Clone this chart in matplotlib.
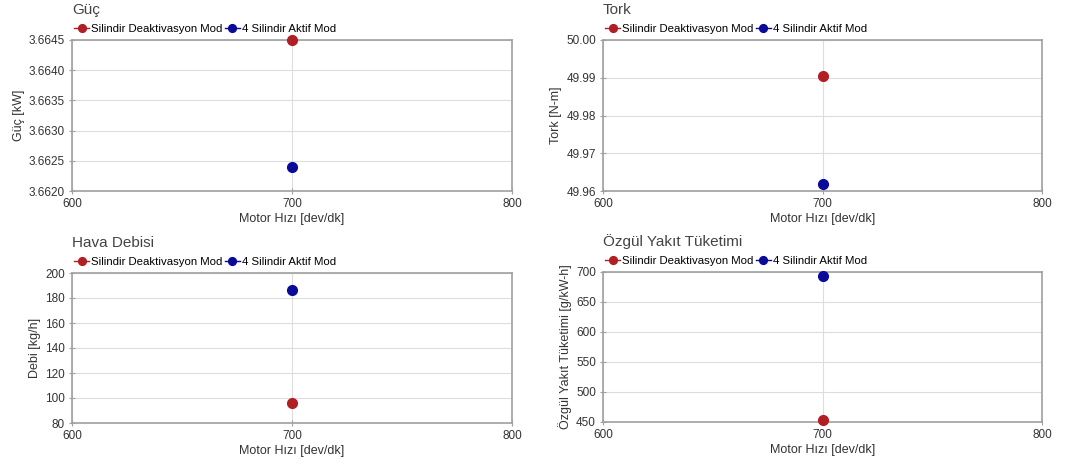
import matplotlib
matplotlib.use("Agg")
import matplotlib.pyplot as plt

plt.rcParams["font.family"] = ["Liberation Sans", "DejaVu Sans"]

# -----------------------------
# DATA
# -----------------------------

speed = [700]
series_names = ["Silindir Deaktivasyon Mod", "4 Silindir Aktif Mod"]
series_colors = ["#b01f24", "#0a0a9a"]

guc_deak = [3.66450]
guc_aktif = [3.66240]

tork_deak = [49.9905]
tork_aktif = [49.9618]

debi_deak = [96.0]
debi_aktif = [186.5]

bsfc_deak = [453.0]
bsfc_aktif = [693.0]

panels = [
    ("Güç", "Güç [kW]", guc_deak, guc_aktif, (3.6620, 3.6645), [3.6620, 3.6625, 3.6630, 3.6635, 3.6640, 3.6645], "{:.4f}"),
    ("Tork", "Tork [N-m]", tork_deak, tork_aktif, (49.96, 50.00), [49.96, 49.97, 49.98, 49.99, 50.00], "{:.2f}"),
    ("Hava Debisi", "Debi [kg/h]", debi_deak, debi_aktif, (80, 200), [80, 100, 120, 140, 160, 180, 200], "{:.0f}"),
    ("Özgül Yakıt Tüketimi", "Özgül Yakıt Tüketimi [g/kW-h]", bsfc_deak, bsfc_aktif, (450, 700), [450, 500, 550, 600, 650, 700], "{:.0f}"),
]

# axes rectangles in pixels: left, top, right, bottom
rects = [
    (72, 40, 512, 191),
    (603, 40, 1042, 191),
    (72, 273, 512, 423),
    (603, 272, 1042, 422),
]

W, H = 1085, 466
fig = plt.figure(figsize=(W / 100, H / 100), dpi=100)

for (title, ylabel, deak, aktif, ylim, yticks, fmt), (l, t, r, b) in zip(panels, rects):
    ax = fig.add_axes([l / W, 1 - b / H, (r - l) / W, (b - t) / H])
    ax.plot(speed, deak, marker="o", markersize=7, color=series_colors[0],
            linewidth=1, label=series_names[0], clip_on=False, zorder=3)
    ax.plot(speed, aktif, marker="o", markersize=7, color=series_colors[1],
            linewidth=1, label=series_names[1], clip_on=False, zorder=3)
    ax.set_xlim(600, 800)
    ax.set_xticks([600, 700, 800])
    ax.set_ylim(*ylim)
    ax.set_yticks(yticks)
    ax.set_yticklabels([fmt.format(v) for v in yticks])
    ax.grid(True, color="#dddddd", linewidth=0.8)
    ax.set_axisbelow(True)
    for s in ax.spines.values():
        s.set_color("#a0a0a0")
        s.set_linewidth(1.2)
    ax.tick_params(axis="y", direction="inout", length=4, color="#a0a0a0",
                   labelsize=8.5, labelcolor="#333333", pad=3)
    ax.tick_params(axis="x", direction="inout", length=4, color="#a0a0a0",
                   labelsize=8.5, labelcolor="#333333", pad=3)
    ax.set_xlabel("Motor Hızı [dev/dk]", fontsize=9, color="#333333", labelpad=2)
    ax.set_ylabel(ylabel, fontsize=9, color="#333333", labelpad=3)
    h = b - t
    ax.text(0.0, 1 + 30 / h, title, transform=ax.transAxes, fontsize=11,
            color="#444444", ha="left", va="center")
    ax.legend(loc="center left", bbox_to_anchor=(0.005, 1 + 11 / h), ncol=2,
              frameon=False, fontsize=8.2, handlelength=1.3, handletextpad=0.2,
              columnspacing=0.2, borderaxespad=0, borderpad=0, markerscale=0.8)

fig.savefig("out.png", dpi=100)
